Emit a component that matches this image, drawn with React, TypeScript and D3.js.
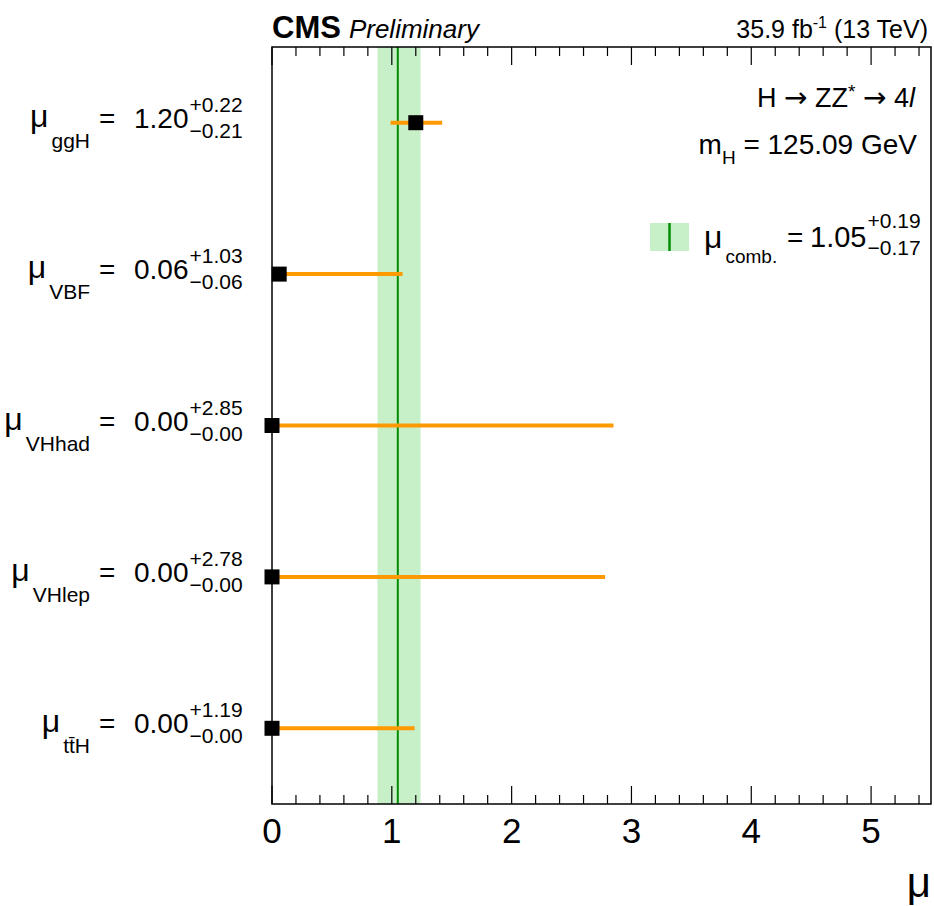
import React, { useEffect, useRef } from 'react';
import * as d3 from 'd3';

// channel data
const channels = ['ggH', 'VBF', 'VHhad', 'VHlep', 'tt\u0304H'];
const muValues = [1.2, 0.06, 0.0, 0.0, 0.0];
const errUp = [0.22, 1.03, 2.85, 2.78, 1.19];
const errDown = [0.21, 0.06, 0.0, 0.0, 0.0];

const combined = { value: 1.05, up: 0.19, down: 0.17 };

const xMajorTicks = [0, 1, 2, 3, 4, 5];
const xMinorTicks = d3.range(0, 28).map((i) => i * 0.2);

const FONT = '"Liberation Sans", Arial, Helvetica, sans-serif';
const ARROW_FONT = '"DejaVu Sans", sans-serif';

const App = () => {
  const ref = useRef<SVGSVGElement | null>(null);

  useEffect(() => {
    const width = 934;
    const height = 906;
    const left = 272;
    const right = 931;
    const top = 47;
    const bottom = 804;

    const svg = d3.select(ref.current);
    svg.selectAll('*').remove();
    svg.attr('width', width).attr('height', height).style('font-family', FONT);

    const x = d3.scaleLinear().domain([0, 5.5]).range([left, right]);
    const y = d3.scaleLinear().domain([0, 5]).range([bottom, top]);
    const rowY = (i: number) => y(channels.length - 0.5 - i);

    // combined band + central line
    svg.append('rect')
      .attr('x', x(combined.value - combined.down))
      .attr('y', top)
      .attr('width', x(combined.value + combined.up) - x(combined.value - combined.down))
      .attr('height', bottom - top)
      .attr('fill', '#c8f0c8');

    svg.append('line')
      .attr('x1', x(combined.value)).attr('x2', x(combined.value))
      .attr('y1', top).attr('y2', bottom)
      .attr('stroke', '#008c00')
      .attr('stroke-width', 2);

    // ticks (inward, bottom and top)
    const tickG = svg.append('g').attr('stroke', '#000').attr('stroke-width', 1.2);
    xMinorTicks.filter((t) => !xMajorTicks.includes(Math.round(t * 10) / 10)).forEach((t) => {
      tickG.append('line').attr('x1', x(t)).attr('x2', x(t)).attr('y1', bottom).attr('y2', bottom - 9);
      tickG.append('line').attr('x1', x(t)).attr('x2', x(t)).attr('y1', top).attr('y2', top + 9);
    });
    xMajorTicks.forEach((t) => {
      tickG.append('line').attr('x1', x(t)).attr('x2', x(t)).attr('y1', bottom).attr('y2', bottom - 18);
      tickG.append('line').attr('x1', x(t)).attr('x2', x(t)).attr('y1', top).attr('y2', top + 18);
    });

    // error bars
    svg.selectAll('line.err')
      .data(channels)
      .enter()
      .append('line')
      .attr('class', 'err')
      .attr('x1', (d, i) => x(muValues[i] - errDown[i]))
      .attr('x2', (d, i) => x(muValues[i] + errUp[i]))
      .attr('y1', (d, i) => rowY(i))
      .attr('y2', (d, i) => rowY(i))
      .attr('stroke', '#ff9900')
      .attr('stroke-width', 4);

    // frame
    svg.append('rect')
      .attr('x', left).attr('y', top)
      .attr('width', right - left).attr('height', bottom - top)
      .attr('fill', 'none')
      .attr('stroke', '#000')
      .attr('stroke-width', 1.5);

    // markers
    const ms = 15;
    svg.selectAll('rect.marker')
      .data(channels)
      .enter()
      .append('rect')
      .attr('class', 'marker')
      .attr('x', (d, i) => x(muValues[i]) - ms / 2)
      .attr('y', (d, i) => rowY(i) - ms / 2)
      .attr('width', ms)
      .attr('height', ms)
      .attr('fill', '#000');

    // x tick labels
    svg.selectAll('text.xtick')
      .data(xMajorTicks)
      .enter()
      .append('text')
      .attr('class', 'xtick')
      .attr('x', (d) => x(d))
      .attr('y', 843)
      .attr('text-anchor', 'middle')
      .attr('font-size', 35)
      .text((d) => d);

    svg.append('text')
      .attr('x', right)
      .attr('y', 897)
      .attr('text-anchor', 'end')
      .attr('font-size', 42)
      .text('\u03bc');

    // helper: value with asymmetric errors
    const drawValue = (xv: number, base: number, val: number, up: number, down: number, size: number, supDy: number, subDy: number) => {
      const t = svg.append('text')
        .attr('x', xv).attr('y', base)
        .attr('font-size', size)
        .text(val.toFixed(2));
      const w = (t.node() as SVGTextElement).getComputedTextLength();
      svg.append('text')
        .attr('x', xv + w + 1).attr('y', base + supDy)
        .attr('font-size', 21)
        .text('+' + up.toFixed(2));
      svg.append('text')
        .attr('x', xv + w + 1).attr('y', base + subDy)
        .attr('font-size', 21)
        .text('\u2212' + down.toFixed(2));
    };

    // row labels
    channels.forEach((c, i) => {
      const cy = rowY(i);
      const lab = svg.append('text')
        .attr('x', 90).attr('y', cy + 4)
        .attr('text-anchor', 'end');
      lab.append('tspan').attr('font-size', 32).text('\u03bc');
      lab.append('tspan').attr('font-size', 21).attr('dx', 3).attr('dy', 21).text(c);

      svg.append('text')
        .attr('x', 99).attr('y', cy + 5)
        .attr('font-size', 28)
        .text('=');

      drawValue(134, cy + 5, muValues[i], errUp[i], errDown[i], 28, -16, 10);
    });

    // header
    const head = svg.append('text').attr('x', left).attr('y', 38);
    head.append('tspan').attr('font-size', 31).attr('font-weight', 'bold').text('CMS');
    head.append('tspan').attr('font-size', 26).attr('font-style', 'italic').attr('dx', 8).text('Preliminary');

    const lumi = svg.append('text')
      .attr('x', 928).attr('y', 38)
      .attr('text-anchor', 'end')
      .attr('font-size', 25);
    lumi.append('tspan').text('35.9 fb');
    lumi.append('tspan').attr('font-size', 16).attr('dy', -10).text('-1');
    lumi.append('tspan').attr('dy', 10).text(' (13 TeV)');

    // process / mass labels
    const proc = svg.append('text')
      .attr('x', 915).attr('y', 107)
      .attr('text-anchor', 'end')
      .attr('font-size', 27);
    proc.append('tspan').text('H ');
    proc.append('tspan').attr('font-family', ARROW_FONT).attr('font-size', 28).text('\u2192');
    proc.append('tspan').text(' ZZ');
    proc.append('tspan').attr('font-size', 19).attr('dy', -9).text('*');
    proc.append('tspan').attr('dy', 9).text(' ');
    proc.append('tspan').attr('font-family', ARROW_FONT).attr('font-size', 28).text('\u2192');
    proc.append('tspan').text(' 4');
    proc.append('tspan').attr('font-style', 'italic').text('l');

    const mass = svg.append('text')
      .attr('x', 917).attr('y', 154)
      .attr('text-anchor', 'end')
      .attr('font-size', 28);
    mass.append('tspan').text('m');
    mass.append('tspan').attr('font-size', 19).attr('dy', 10).text('H');
    mass.append('tspan').attr('dy', -10).text(' = 125.09 GeV');

    // legend
    svg.append('rect')
      .attr('x', 650).attr('y', 223)
      .attr('width', 39).attr('height', 28)
      .attr('fill', '#c8f0c8');
    svg.append('line')
      .attr('x1', 669.5).attr('x2', 669.5)
      .attr('y1', 223).attr('y2', 251)
      .attr('stroke', '#008c00')
      .attr('stroke-width', 2.5);
    const leg = svg.append('text').attr('x', 704).attr('y', 248);
    leg.append('tspan').attr('font-size', 32).text('\u03bc');
    leg.append('tspan').attr('font-size', 19).attr('dx', 3).attr('dy', 15).text('comb.');
    svg.append('text').attr('x', 787).attr('y', 247).attr('font-size', 28).text('=');
    drawValue(810, 247, combined.value, combined.up, combined.down, 29, -19, 8);

    return () => {
      svg.selectAll('*').remove();
    };
  }, []);

  return (
    <svg ref={ref} style={{ position: 'absolute', left: 0, top: 0, background: '#fff' }} />
  );
};

export default App;
